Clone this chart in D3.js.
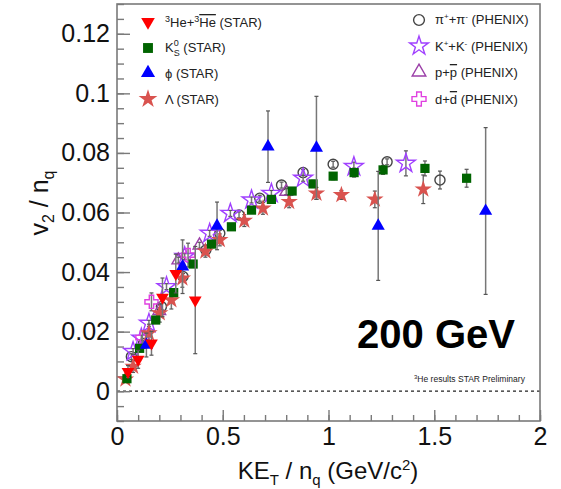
<!DOCTYPE html>
<html>
<head>
<meta charset="utf-8">
<script src="https://cdn.jsdelivr.net/npm/d3@7"></script>
<style>
  html, body { margin: 0; padding: 0; background: #fff; }
  svg { display: block; font-family: "Liberation Sans", Arial, Helvetica, sans-serif; }
</style>
</head>
<body>
<svg id="chart" width="561" height="489"></svg>
<script>
// ---- data: v2/nq versus KE_T/nq, Au+Au 200 GeV ----
const he3X   = [0.052, 0.100, 0.163, 0.215, 0.278, 0.370];
const he3Y   = [0.0066, 0.0107, 0.0161, 0.0315, 0.0395, 0.0306];
const he3E   = [0.002, 0.003, 0.004, 0.0065, 0.0065, 0.018];

const k0sX   = [0.047, 0.107, 0.183, 0.268, 0.360, 0.447, 0.541, 0.636, 0.730, 0.828, 0.927, 1.022, 1.121, 1.258, 1.456, 1.653];
const k0sY   = [0.0042, 0.0144, 0.0239, 0.0331, 0.0427, 0.0494, 0.0552, 0.0608, 0.0644, 0.0672, 0.0696, 0.0722, 0.0734, 0.0743, 0.0748, 0.0715];
const k0sE   = [0.001, 0.001, 0.001, 0.001, 0.001, 0.001, 0.001, 0.001, 0.001, 0.001, 0.0012, 0.0012, 0.0015, 0.0015, 0.0025, 0.003];

const phiX   = [0.139, 0.310, 0.473, 0.714, 0.943, 1.235, 1.743];
const phiY   = [0.0155, 0.0418, 0.0555, 0.0821, 0.0817, 0.0555, 0.0605];
const phiE   = [0.004, 0.009, 0.008, 0.012, 0.0173, 0.0183, 0.028];

const lamX   = [0.040, 0.076, 0.151, 0.202, 0.257, 0.309, 0.418, 0.486, 0.602, 0.690, 0.814, 0.943, 1.061, 1.219, 1.448];
const lamY   = [0.0040, 0.0083, 0.0195, 0.0262, 0.0306, 0.0379, 0.0470, 0.0508, 0.0573, 0.0614, 0.0636, 0.0664, 0.0659, 0.0644, 0.0678];
const lamE   = [0.001, 0.002, 0.003, 0.003, 0.003, 0.003, 0.002, 0.002, 0.002, 0.002, 0.002, 0.002, 0.0015, 0.0028, 0.0048];

const piX    = [0.068, 0.125, 0.210, 0.312, 0.420, 0.486, 0.577, 0.675, 0.778, 0.880, 1.022, 1.277, 1.527];
const piY    = [0.0116, 0.0160, 0.0284, 0.0385, 0.0474, 0.0530, 0.0592, 0.0648, 0.0692, 0.0734, 0.0762, 0.0770, 0.0709];
const piE    = [0.001, 0.001, 0.001, 0.001, 0.001, 0.001, 0.001, 0.001, 0.001, 0.001, 0.001, 0.001, 0.003];

const kaX    = [0.076, 0.115, 0.151, 0.234, 0.320, 0.438, 0.536, 0.636, 0.730, 0.880, 1.120, 1.366];
const kaY    = [0.0133, 0.0178, 0.0228, 0.0351, 0.0452, 0.0530, 0.0597, 0.0642, 0.0664, 0.0715, 0.0754, 0.0765];
const kaE    = [0.001, 0.001, 0.001, 0.001, 0.001, 0.001, 0.001, 0.001, 0.001, 0.001, 0.0015, 0.0042];

const prX    = [0.200, 0.290, 0.390, 0.800];
const prY    = [0.0270, 0.0440, 0.0490, 0.0670];
const prE    = [0.001, 0.001, 0.001, 0.001];

const deX    = [0.120, 0.163, 0.336];
const deY    = [0.0180, 0.0300, 0.0457];
const deE    = [0.002, 0.003, 0.004];

const xTicks = [0, 0.5, 1, 1.5, 2];
const yTicks = [0, 0.02, 0.04, 0.06, 0.08, 0.1, 0.12];
const xTickLabels = ["0", "0.5", "1", "1.5", "2"];
const yTickLabels = ["0", "0.02", "0.04", "0.06", "0.08", "0.1", "0.12"];

// ---- layout ----
const svg = d3.select("#chart");
const L = 117, R = 540, T = 4, B = 421;
const x = d3.scaleLinear().domain([0, 2]).range([L, R]);
const y = d3.scaleLinear().domain([-0.01, 0.13]).range([B, T]);
const frameColor = "#7a7a7a";

// zero reference line
svg.append("line")
  .attr("x1", L).attr("x2", R).attr("y1", y(0)).attr("y2", y(0))
  .attr("stroke", "#222").attr("stroke-width", 1.3).attr("stroke-dasharray", "3,3");

// axes with inward ticks
function styleAxis(g) {
  g.select(".domain").remove();
  g.selectAll(".tick line").attr("stroke", frameColor).attr("stroke-width", 1.4);
  g.selectAll("text").attr("fill", "#111").attr("font-size", 25)
    .attr("font-family", "Liberation Sans, Arial, sans-serif");
}
const xMinor = d3.range(0, 2.0001, 0.1).map(v => +v.toFixed(2));
const yMinor = d3.range(-0.01, 0.13001, 0.005).map(v => +v.toFixed(3));

svg.append("g").attr("transform", `translate(0,${B})`)
  .call(d3.axisBottom(x).tickValues(xMinor).tickSize(-6).tickFormat(""))
  .call(styleAxis);
svg.append("g").attr("transform", `translate(0,${B})`)
  .call(d3.axisBottom(x).tickValues(xTicks).tickSize(-11).tickPadding(6)
    .tickFormat((d, i) => xTickLabels[i]))
  .call(styleAxis);
svg.append("g").attr("transform", `translate(${L},0)`)
  .call(d3.axisLeft(y).tickValues(yMinor).tickSize(-7).tickFormat(""))
  .call(styleAxis);
svg.append("g").attr("transform", `translate(${L},0)`)
  .call(d3.axisLeft(y).tickValues(yTicks).tickSize(-13).tickPadding(7)
    .tickFormat((d, i) => yTickLabels[i]))
  .call(styleAxis);

// frame
svg.append("rect").attr("x", L).attr("y", T).attr("width", R - L).attr("height", B - T)
  .attr("fill", "none").attr("stroke", frameColor).attr("stroke-width", 1.6);

// marker styles
const styles = {
  he3: { shape: d3.symbolTriangle, size: 70, rot: 180, fill: "#ff0000", stroke: "none" },
  k0s: { shape: d3.symbolSquare, size: 85, rot: 0, fill: "#006400", stroke: "none" },
  phi: { shape: d3.symbolTriangle, size: 75, rot: 0, fill: "#0000ff", stroke: "none" },
  lam: { shape: d3.symbolStar, size: 95, rot: 0, fill: "#d9534f", stroke: "none" },
  pi:  { shape: d3.symbolCircle, size: 80, rot: 0, fill: "none", stroke: "#444" },
  ka:  { shape: d3.symbolStar, size: 110, rot: 0, fill: "none", stroke: "#a040ff" },
  pr:  { shape: d3.symbolTriangle, size: 70, rot: 0, fill: "none", stroke: "#9b3fa8" },
  de:  { shape: d3.symbolCross, size: 95, rot: 0, fill: "none", stroke: "#e040e0" }
};

function drawSeries(xs, ys, es, st) {
  const g = svg.append("g");
  const pts = xs.map((v, i) => ({ x: v, y: ys[i], e: es[i] }));
  const eb = g.selectAll(".eb").data(pts).enter().append("g").attr("class", "eb");
  eb.append("line")
    .attr("x1", d => x(d.x)).attr("x2", d => x(d.x))
    .attr("y1", d => y(d.y - d.e)).attr("y2", d => y(d.y + d.e))
    .attr("stroke", "#777").attr("stroke-width", 1.5);
  [-1, 1].forEach(s => {
    eb.append("line")
      .attr("x1", d => x(d.x) - 2).attr("x2", d => x(d.x) + 2)
      .attr("y1", d => y(d.y + s * d.e)).attr("y2", d => y(d.y + s * d.e))
      .attr("stroke", "#555").attr("stroke-width", 1.2);
  });
  g.selectAll(".m").data(pts).enter().append("path")
    .attr("d", d3.symbol().type(st.shape).size(st.size))
    .attr("transform", d => `translate(${x(d.x)},${y(d.y)}) rotate(${st.rot})`)
    .attr("fill", st.fill).attr("stroke", st.stroke).attr("stroke-width", 1.4);
}

drawSeries(piX, piY, piE, styles.pi);
drawSeries(kaX, kaY, kaE, styles.ka);
drawSeries(prX, prY, prE, styles.pr);
drawSeries(deX, deY, deE, styles.de);
drawSeries(lamX, lamY, lamE, styles.lam);
drawSeries(k0sX, k0sY, k0sE, styles.k0s);
drawSeries(phiX, phiY, phiE, styles.phi);
drawSeries(he3X, he3Y, he3E, styles.he3);

// legend
const legend = svg.append("g").attr("font-size", 13).attr("fill", "#222");
function legMarker(cx, cy, st, scale) {
  legend.append("path")
    .attr("d", d3.symbol().type(st.shape).size(st.size * (scale || 1.15)))
    .attr("transform", `translate(${cx},${cy}) rotate(${st.rot})`)
    .attr("fill", st.fill).attr("stroke", st.stroke).attr("stroke-width", 1.4);
}
// left column (STAR)
legMarker(148, 22, styles.he3);
legMarker(148, 48, styles.k0s);
legMarker(148, 73, styles.phi);
legMarker(148, 99, styles.lam);
let t = legend.append("text").attr("x", 165).attr("y", 27);
t.append("tspan").attr("font-size", 9).attr("dy", -5).text("3");
t.append("tspan").attr("dy", 5).text("He+");
t.append("tspan").attr("font-size", 9).attr("dy", -5).text("3");
t.append("tspan").attr("dy", 5).attr("text-decoration", "overline").text("He");
t.append("tspan").text(" (STAR)");

t = legend.append("text").attr("x", 165).attr("y", 52);
t.append("tspan").text("K");
t.append("tspan").attr("font-size", 9).attr("dy", -6).text("0");
t.append("tspan").attr("font-size", 9).attr("dx", -5).attr("dy", 10).text("S");
t.append("tspan").attr("dy", -4).text(" (STAR)");

legend.append("text").attr("x", 165).attr("y", 78).text("\u03D5 (STAR)");
legend.append("text").attr("x", 165).attr("y", 104).text("\u039B (STAR)");

// right column (PHENIX)
legMarker(419, 20, styles.pi);
legMarker(419, 46, styles.ka, 1.0);
legMarker(419, 72, styles.pr);
legMarker(419, 99, styles.de);
t = legend.append("text").attr("x", 435).attr("y", 24);
t.append("tspan").text("\u03C0");
t.append("tspan").attr("font-size", 8).attr("dy", -5).text("+");
t.append("tspan").attr("dy", 5).text("+\u03C0");
t.append("tspan").attr("font-size", 8).attr("dy", -5).text("-");
t.append("tspan").attr("dy", 5).text(" (PHENIX)");

t = legend.append("text").attr("x", 435).attr("y", 51);
t.append("tspan").text("K");
t.append("tspan").attr("font-size", 8).attr("dy", -5).text("+");
t.append("tspan").attr("dy", 5).text("+K");
t.append("tspan").attr("font-size", 8).attr("dy", -5).text("-");
t.append("tspan").attr("dy", 5).text(" (PHENIX)");

t = legend.append("text").attr("x", 435).attr("y", 77);
t.append("tspan").text("p+");
t.append("tspan").attr("text-decoration", "overline").text("p");
t.append("tspan").text(" (PHENIX)");

t = legend.append("text").attr("x", 435).attr("y", 104);
t.append("tspan").text("d+");
t.append("tspan").attr("text-decoration", "overline").text("d");
t.append("tspan").text(" (PHENIX)");

// annotations
svg.append("text").attr("x", 357).attr("y", 348)
  .attr("textLength", 158).attr("lengthAdjust", "spacingAndGlyphs")
  .attr("font-size", 40).attr("font-weight", "bold").attr("fill", "#000")
  .text("200 GeV");
t = svg.append("text").attr("x", 414).attr("y", 382).attr("font-size", 8.5).attr("fill", "#222");
t.append("tspan").attr("font-size", 6).attr("dy", -3).text("3");
t.append("tspan").attr("dy", 3).text("He results STAR Preliminary");

// axis titles
t = svg.append("text").attr("transform", "translate(48,203) rotate(-90)")
  .attr("text-anchor", "middle").attr("font-size", 25).attr("fill", "#111");
t.append("tspan").text("v");
t.append("tspan").attr("font-size", 16).attr("dy", 6).text("2");
t.append("tspan").attr("dy", -6).text(" / n");
t.append("tspan").attr("font-size", 16).attr("dy", 6).text("q");

t = svg.append("text").attr("x", 328).attr("y", 479)
  .attr("text-anchor", "middle").attr("font-size", 24).attr("fill", "#111");
t.append("tspan").text("KE");
t.append("tspan").attr("font-size", 15).attr("dy", 6).text("T");
t.append("tspan").attr("dy", -6).text(" / n");
t.append("tspan").attr("font-size", 15).attr("dy", 6).text("q");
t.append("tspan").attr("dy", -6).text(" (GeV/c");
t.append("tspan").attr("font-size", 15).attr("dy", -9).text("2");
t.append("tspan").attr("dy", 9).text(")");
</script>
</body>
</html>
